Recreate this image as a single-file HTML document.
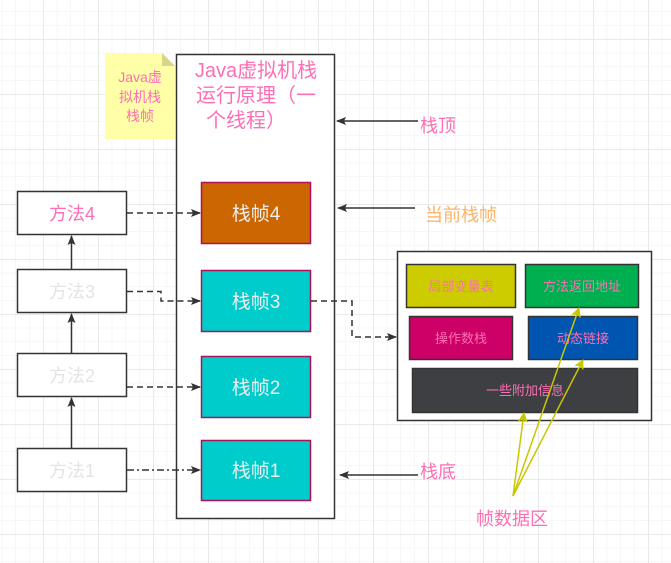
<!DOCTYPE html>
<html><head><meta charset="utf-8"><style>
html,body{margin:0;padding:0;background:#fff;}
svg{display:block;}
text{font-family:"Liberation Sans","Noto Sans CJK SC",sans-serif;}
</style></head><body>
<svg width="671" height="563" viewBox="0 0 671 563" xmlns="http://www.w3.org/2000/svg">
<defs>
<pattern id="mi" x="1.75" y="-2.25" width="13.75" height="13.75" patternUnits="userSpaceOnUse">
<path d="M0 0V13.75M0 0H13.75" stroke="#efefef" stroke-width="1" fill="none"/>
</pattern>
<pattern id="ma" x="43" y="39" width="55" height="55" patternUnits="userSpaceOnUse">
<path d="M0 0V55M0 0H55" stroke="#e3e3e3" stroke-width="1.5" fill="none"/>
</pattern>
<marker id="ah" markerWidth="10" markerHeight="8" refX="9" refY="4" orient="auto" markerUnits="userSpaceOnUse">
<path d="M0 0L10 4L0 8L2 4Z" fill="#333"/>
</marker>
<marker id="ay" markerWidth="10" markerHeight="10" refX="9" refY="5" orient="auto" markerUnits="userSpaceOnUse">
<path d="M0 0L10 5L0 10L2 5Z" fill="#c8c800"/>
</marker>
</defs>
<rect width="671" height="563" fill="url(#mi)"/>
<rect width="671" height="563" fill="url(#ma)"/>

<path d="M105 53H162L175 66V139H105Z" fill="#ffffa8"/>
<path d="M162 53L175 66H162Z" fill="#d6d68a"/>
<text x="140" y="82" font-size="14" fill="#ff6eb4" text-anchor="middle">Java虚</text>
<text x="140" y="102" font-size="14" fill="#ff6eb4" text-anchor="middle">拟机栈</text>
<text x="140" y="121" font-size="14" fill="#ff6eb4" text-anchor="middle">栈帧</text>

<rect x="176.5" y="54.5" width="158" height="464" fill="#fff" stroke="#333" stroke-width="1.5"/>
<text x="256" y="77" font-size="20" fill="#ff6eb4" text-anchor="middle">Java虚拟机栈</text>
<text x="256" y="102" font-size="20" fill="#ff6eb4" text-anchor="middle">运行原理（一</text>
<text x="246" y="127" font-size="20" fill="#ff6eb4" text-anchor="middle">个线程）</text>

<rect x="201.5" y="182.5" width="109" height="61" fill="#cc6600" stroke="#b0105a" stroke-width="1.5"/>
<text x="256" y="220" font-size="19" fill="#eeeeee" text-anchor="middle">栈帧4</text>
<rect x="201.5" y="270.5" width="109" height="61" fill="#00cccc" stroke="#b0105a" stroke-width="1.5"/>
<text x="256" y="308" font-size="19" fill="#eeeeee" text-anchor="middle">栈帧3</text>
<rect x="201.5" y="356.5" width="109" height="61" fill="#00cccc" stroke="#b0105a" stroke-width="1.5"/>
<text x="256" y="394" font-size="19" fill="#eeeeee" text-anchor="middle">栈帧2</text>
<rect x="201.5" y="440.5" width="109" height="60" fill="#00cccc" stroke="#b0105a" stroke-width="1.5"/>
<text x="256" y="477" font-size="19" fill="#eeeeee" text-anchor="middle">栈帧1</text>

<g fill="#fff" stroke="#333" stroke-width="1.5">
<rect x="17.5" y="191.5" width="109" height="43"/>
<rect x="17.5" y="269.5" width="109" height="43"/>
<rect x="17.5" y="353.5" width="109" height="43"/>
<rect x="17.5" y="448.5" width="109" height="43"/>
</g>
<text x="72" y="220" font-size="18" fill="#ff6eb4" text-anchor="middle">方法4</text>
<text x="72" y="298" font-size="18" fill="#e4e4e4" text-anchor="middle">方法3</text>
<text x="72" y="382" font-size="18" fill="#e4e4e4" text-anchor="middle">方法2</text>
<text x="72" y="477" font-size="18" fill="#e4e4e4" text-anchor="middle">方法1</text>

<g stroke="#333" stroke-width="1.5" fill="none">
<line x1="71.5" y1="269" x2="71.5" y2="236" marker-end="url(#ah)"/>
<line x1="71.5" y1="353" x2="71.5" y2="314" marker-end="url(#ah)"/>
<line x1="71.5" y1="448" x2="71.5" y2="398" marker-end="url(#ah)"/>
<line x1="127" y1="213" x2="200" y2="213" stroke-dasharray="6 4" marker-end="url(#ah)"/>
<polyline points="127,291.5 161,291.5 161,301 200,301" stroke-dasharray="6 4" marker-end="url(#ah)"/>
<line x1="127" y1="387" x2="200" y2="387" stroke-dasharray="6 4" marker-end="url(#ah)"/>
<line x1="127" y1="470" x2="200" y2="470" stroke-dasharray="7 3 2 3" marker-end="url(#ah)"/>
<polyline points="311,301 352,301 352,337 396,337" stroke-dasharray="6 4" marker-end="url(#ah)"/>
<line x1="418" y1="121" x2="337" y2="121" marker-end="url(#ah)"/>
<line x1="415" y1="208" x2="338" y2="208" marker-end="url(#ah)"/>
<line x1="418" y1="475" x2="340" y2="475" marker-end="url(#ah)"/>
</g>
<text x="420" y="132" font-size="18" fill="#ff6eb4">栈顶</text>
<text x="425" y="221" font-size="18" fill="#ffb366">当前栈帧</text>
<text x="420" y="478" font-size="18" fill="#ff6eb4">栈底</text>

<rect x="397.5" y="251.5" width="254" height="169" fill="#fff" stroke="#333" stroke-width="1.5"/>
<g stroke="#333" stroke-width="1.5">
<rect x="406.5" y="264.5" width="109" height="43" fill="#cccc00"/>
<rect x="525.5" y="264.5" width="113" height="43" fill="#00b050"/>
<rect x="409.5" y="316.5" width="103" height="43" fill="#cc0066"/>
<rect x="528.5" y="316.5" width="109" height="43" fill="#0055b0"/>
<rect x="412.5" y="368.5" width="225" height="44" fill="#3d3f42"/>
</g>
<g font-size="13" fill="#ff6eb4" text-anchor="middle">
<text x="461" y="291">局部变量表</text>
<text x="582" y="291">方法返回地址</text>
<text x="461" y="343">操作数栈</text>
<text x="583" y="343">动态链接</text>
<text x="525" y="395">一些附加信息</text>
</g>

<g stroke="#c8c800" stroke-width="1.5" fill="none">
<line x1="513" y1="496" x2="524" y2="413" marker-end="url(#ay)"/>
<line x1="513" y1="496" x2="579" y2="308" marker-end="url(#ay)"/>
<line x1="513" y1="496" x2="583" y2="360" marker-end="url(#ay)"/>
</g>
<text x="512" y="525" font-size="18" fill="#ff6eb4" text-anchor="middle">帧数据区</text>
</svg>
</body></html>
